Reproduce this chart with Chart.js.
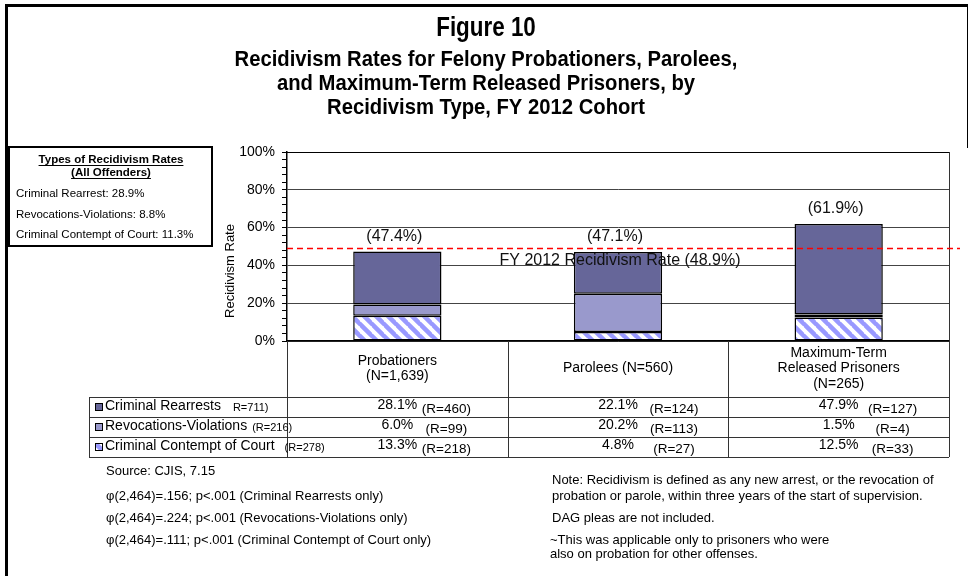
<!DOCTYPE html>
<html><head><meta charset="utf-8">
<script src="https://cdn.jsdelivr.net/npm/chart.js@4.4.0/dist/chart.umd.min.js"></script>
<style>html,body{margin:0;padding:0;background:#fff;}canvas{display:block;}</style>
</head><body>
<canvas id="c" width="971" height="576"></canvas>
<script>
// ---------- data ----------
const categories = [['Probationers','(N=1,639)'], 'Parolees (N=560)', ['Maximum-Term','Released Prisoners','(N=265)']];
const seriesNames = ['Criminal Rearrests', 'Revocations-Violations', 'Criminal Contempt of Court'];
const seriesCountLabels = ['R=711)', '(R=216)', '(R=278)'];
const rearrests = [28.1, 22.1, 47.9];
const revocations = [6.0, 20.2, 1.5];
const contempt = [13.3, 4.8, 12.5];
const rearrestsR = [460, 124, 127];
const revocationsR = [99, 113, 4];
const contemptR = [218, 27, 33];
const totals = [47.4, 47.1, 61.9];
const cohortRate = 48.9;
const cohortLabel = 'FY 2012 Recidivism Rate (48.9%)';
const yTickStep = 20;
const yMinorStep = 4;
const titleMain = 'Figure 10';
const titleSub = ['Recidivism Rates for Felony Probationers, Parolees,', 'and Maximum-Term Released Prisoners, by', 'Recidivism Type, FY 2012 Cohort'];
const boxHeading = ['Types of Recidivism Rates', '(All Offenders)'];
const allOffenderRates = ['Criminal Rearrest: 28.9%', 'Revocations-Violations: 8.8%', 'Criminal Contempt of Court: 11.3%'];
const leftNotes = ['Source: CJIS, 7.15', '\u03C6(2,464)=.156; p<.001 (Criminal Rearrests only)', '\u03C6(2,464)=.224; p<.001 (Revocations-Violations only)', '\u03C6(2,464)=.111; p<.001 (Criminal Contempt of Court only)'];
const rightNotes = ['Note: Recidivism is defined as any new arrest, or the revocation of', 'probation or parole, within three years of the start of supervision.', 'DAG pleas are not included.', '~This was applicable only to prisoners who were', 'also on probation for other offenses.'];
const yAxisTitle = 'Recidivism Rate';

// ---------- styles ----------
const FONT = "'Liberation Sans', Arial, Helvetica, sans-serif";
const DARK = '#666699', LIGHT = '#9999CC', STRIPE = '#9999FF';
Chart.defaults.font.family = FONT;
Chart.defaults.color = '#000';

function makeHatch() {
  const s = 12;
  const c = document.createElement('canvas'); c.width = s; c.height = s;
  const g = c.getContext('2d');
  g.fillStyle = '#fff'; g.fillRect(0, 0, s, s);
  g.strokeStyle = STRIPE; g.lineWidth = 4.5;
  g.beginPath();
  for (let k = -1; k <= 1; k++) { g.moveTo(-1, k * s - 1); g.lineTo(s + 1, s + k * s + 1); }
  g.stroke();
  return g.createPattern(c, 'repeat');
}
const HATCH = makeHatch();

const tableRows = [
  { name: seriesNames[0], count: seriesCountLabels[0], vals: rearrests, rs: rearrestsR, fill: DARK },
  { name: seriesNames[1], count: seriesCountLabels[1], vals: revocations, rs: revocationsR, fill: LIGHT },
  { name: seriesNames[2], count: seriesCountLabels[2], vals: contempt, rs: contemptR, fill: HATCH }
];

const decor = {
  id: 'decor',
  afterDraw(chart) {
    const ctx = chart.ctx, xs = chart.scales.x, ys = chart.scales.y, ca = chart.chartArea;
    ctx.save();
    // outer frame
    ctx.fillStyle = '#000';
    ctx.fillRect(5, 4, 963, 3);
    ctx.fillRect(5, 4, 3, 572);
    ctx.fillRect(967, 4, 1, 144);

    // titles (condensed bold)
    ctx.textAlign = 'center'; ctx.textBaseline = 'middle';
    const cx = 486;
    ctx.save(); ctx.translate(cx, 28); ctx.scale(0.8, 1);
    ctx.font = 'bold 28px ' + FONT; ctx.fillText(titleMain, 0, 0); ctx.restore();
    titleSub.forEach((t, i) => {
      ctx.save(); ctx.translate(cx, 60 + i * 24); ctx.scale(0.92, 1);
      ctx.font = 'bold 22px ' + FONT; ctx.fillText(t, 0, 0); ctx.restore();
    });

    // left info box
    ctx.lineWidth = 2; ctx.strokeStyle = '#000';
    ctx.strokeRect(9, 147, 203, 99);
    ctx.font = 'bold 11.5px ' + FONT;
    boxHeading.forEach((t, i) => {
      const yy = 160 + i * 13;
      ctx.fillText(t, 111, yy);
      const w = ctx.measureText(t).width;
      ctx.fillRect(111 - w / 2, yy + 5, w, 1);
    });
    ctx.textAlign = 'left'; ctx.font = '11.5px ' + FONT;
    allOffenderRates.forEach((t, i) => ctx.fillText(t, 16, 194 + i * 20.5));

    // y axis title
    ctx.save(); ctx.translate(230, 271); ctx.rotate(-Math.PI / 2);
    ctx.textAlign = 'center'; ctx.font = '13px ' + FONT; ctx.fillText(yAxisTitle, 0, 0); ctx.restore();

    // table grid
    const n = categories.length;
    const colW = (ca.right - ca.left) / n;
    const hdrBottom = ca.bottom + 56, rowH = 20, tabBottom = hdrBottom + rowH * 3, tabLeft = 89;
    ctx.strokeStyle = '#333'; ctx.lineWidth = 1;
    ctx.beginPath();
    for (let i = 0; i <= n; i++) {
      const xx = Math.round(xs.getPixelForValue(0) - colW / 2 + i * colW) + 0.5;
      ctx.moveTo(xx, i === n ? ca.top : ca.bottom); ctx.lineTo(xx, tabBottom);
    }
    ctx.moveTo(tabLeft + 0.5, hdrBottom); ctx.lineTo(tabLeft + 0.5, tabBottom);
    for (let r = 0; r <= 3; r++) {
      const yy = hdrBottom + r * rowH + 0.5;
      ctx.moveTo(tabLeft, yy); ctx.lineTo(ca.right, yy);
    }
    ctx.stroke();
    ctx.beginPath(); ctx.strokeStyle = '#000'; ctx.moveTo(ca.left, ca.top + 0.5); ctx.lineTo(ca.right, ca.top + 0.5); ctx.stroke();

    // table rows
    const rOff = [49, 56, 54];
    const countGap = [12, 5, 10];
    tableRows.forEach((row, r) => {
      const yc = hdrBottom + r * rowH + rowH / 2;
      ctx.fillStyle = row.fill; ctx.fillRect(95, yc - 4, 7, 7);
      ctx.strokeStyle = '#000'; ctx.lineWidth = 1; ctx.strokeRect(95.5, yc - 3.5, 7, 7);
      ctx.fillStyle = '#000'; ctx.textAlign = 'left';
      ctx.font = '14px ' + FONT; ctx.fillText(row.name, 105, yc - 1);
      const w = ctx.measureText(row.name).width;
      ctx.font = '11px ' + FONT; ctx.fillText(row.count, 105 + w + countGap[r], yc + 1);
      ctx.textAlign = 'center';
      row.vals.forEach((v, c) => {
        const px = xs.getPixelForValue(c);
        ctx.font = '14px ' + FONT;
        ctx.fillText(v.toFixed(1) + '%', px, yc - 2);
        ctx.font = '13.5px ' + FONT;
        ctx.fillText('(R=' + row.rs[c] + ')', px + rOff[c], yc + 2);
      });
    });

    // total labels above bars
    const topMeta = chart.getDatasetMeta(2);
    ctx.font = '16px ' + FONT; ctx.fillStyle = '#111'; ctx.textAlign = 'center';
    topMeta.data.forEach((bar, i) => ctx.fillText('(' + totals[i].toFixed(1) + '%)', bar.x - 3, bar.y - 15));

    // cohort reference line
    const ry = ys.getPixelForValue(cohortRate);
    ctx.strokeStyle = '#FF0000'; ctx.lineWidth = 1.5; ctx.setLineDash([6, 4]);
    ctx.beginPath(); ctx.moveTo(ca.left, ry); ctx.lineTo(960, ry); ctx.stroke(); ctx.setLineDash([]);
    ctx.fillStyle = '#111'; ctx.font = '16px ' + FONT;
    ctx.fillText(cohortLabel, xs.getPixelForValue(1) + 2, ry + 12);

    // notes
    ctx.fillStyle = '#000'; ctx.textAlign = 'left'; ctx.font = '13px ' + FONT;
    const lY = [471, 496, 518, 540];
    leftNotes.forEach((t, i) => ctx.fillText(t, 106, lY[i]));
    const rY = [480, 496, 518, 540, 554];
    rightNotes.forEach((t, i) => ctx.fillText(t, i >= 3 ? 550 : 552, rY[i]));
    ctx.restore();
  }
};

const barCommon = { borderColor: '#000', borderWidth: 1.5, borderSkipped: false, barPercentage: 0.5, categoryPercentage: 0.8 };
new Chart(document.getElementById('c'), {
  type: 'bar',
  data: {
    labels: categories,
    datasets: [
      Object.assign({ label: seriesNames[2], data: contempt, backgroundColor: HATCH }, barCommon),
      Object.assign({ label: seriesNames[1], data: revocations, backgroundColor: LIGHT }, barCommon),
      Object.assign({ label: seriesNames[0], data: rearrests, backgroundColor: DARK }, barCommon)
    ]
  },
  options: {
    responsive: false, animation: false, devicePixelRatio: 1, events: [],
    layout: { padding: { top: 152, left: 222, right: 22, bottom: 0 } },
    plugins: { legend: { display: false }, tooltip: { enabled: false } },
    scales: {
      x: {
        stacked: true,
        grid: { display: false, drawTicks: false, tickLength: 0 },
        border: { display: true, color: '#000', width: 1.5 },
        ticks: { font: { size: 14, lineHeight: 1.1 }, color: '#000', crossAlign: 'center', padding: 12, maxRotation: 0, autoSkip: false },
        afterFit(s) { s.height = 235; }
      },
      y: {
        stacked: true, min: 0, max: 100,
        grid: { color: c => (c.tick && c.tick.value % yTickStep === 0 ? '#444' : 'rgba(0,0,0,0)'), tickColor: '#000', tickLength: 5, drawTicks: true },
        border: { display: true, color: '#000', width: 1.5 },
        ticks: { stepSize: yMinorStep, autoSkip: false, padding: 7, font: { size: 14 }, color: '#000',
                 callback: v => (v % yTickStep === 0 ? v + '%' : '') },
        afterFit(s) { s.width = 65; }
      }
    }
  },
  plugins: [decor]
});
</script>
</body></html>
